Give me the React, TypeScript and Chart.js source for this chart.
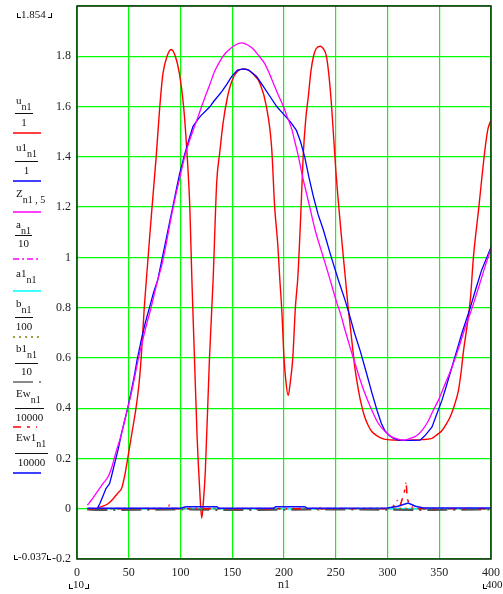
import React, { useEffect, useRef } from 'react';
import { Chart, registerables } from 'chart.js';

Chart.register(...registerables);

// ---- data (n1, value) ----
const U_PTS: number[][] = [
  [20, 0.005], [25, 0.01], [30, 0.02], [35, 0.04], [40, 0.065], [43, 0.08], [46, 0.13], [49, 0.2], [53, 0.3], [57, 0.4],
  [60, 0.5], [62, 0.6], [65, 0.8], [67, 0.91], [70, 1.07], [72.5, 1.2], [76.5, 1.4], [80, 1.6], [83, 1.73], [87, 1.8],
  [91, 1.827], [95, 1.8], [99, 1.73], [103, 1.6], [106.5, 1.4], [109, 1.2], [111, 0.91], [113.5, 0.6], [116, 0.29], [118.5, 0.08],
  [120.5, -0.037], [122.5, 0.05], [124, 0.15], [128, 0.6], [131.5, 0.91], [135, 1.3], [138, 1.42], [141, 1.53], [145, 1.63], [149.5, 1.7],
  [155, 1.74], [162, 1.75], [170, 1.73], [177, 1.69], [183, 1.6], [188, 1.44], [191, 1.2], [194, 1.05], [196, 0.91], [198, 0.78],
  [200, 0.6], [202, 0.5], [204, 0.45], [206, 0.5], [208.5, 0.6], [211, 0.8], [213.5, 0.93], [216, 1.15], [218.5, 1.4], [221, 1.55],
  [223.5, 1.64], [226, 1.74], [228.5, 1.8], [231, 1.83], [235, 1.84], [238, 1.83], [241, 1.8], [243.5, 1.72], [246, 1.6], [250, 1.35],
  [256, 1.06], [259, 0.93], [262, 0.8], [265.5, 0.67], [268.5, 0.56], [272, 0.47], [275, 0.41], [278, 0.365], [281.5, 0.33], [285, 0.306],
  [290, 0.29], [294.5, 0.28], [300, 0.275], [307, 0.273], [315, 0.272], [323, 0.273], [333, 0.275], [343, 0.28], [348, 0.295], [352.5, 0.31],
  [356.5, 0.335], [360.5, 0.365], [364.5, 0.41], [368.5, 0.47], [371, 0.54], [373.5, 0.63], [377, 0.73], [380, 0.83], [383, 1.0], [385.5, 1.1],
  [388, 1.19], [391, 1.31], [394.5, 1.44], [397, 1.51], [400, 1.545],
];

const U1_PTS: number[][] = [
  [20, 0.005], [22, 0.02], [25, 0.05], [28, 0.08], [31.5, 0.1], [34, 0.14], [37, 0.19], [40, 0.24], [43, 0.3], [46, 0.35],
  [49, 0.4], [52, 0.46], [55, 0.52], [58, 0.59], [62, 0.67], [66, 0.74], [70, 0.8], [74, 0.86], [78, 0.91], [82, 0.99],
  [86, 1.07], [89, 1.13], [92.5, 1.2], [96, 1.27], [99, 1.33], [104, 1.41], [109, 1.48], [112, 1.52], [117, 1.55], [120, 1.565],
  [125, 1.585], [128.5, 1.6], [132, 1.62], [136, 1.64], [140, 1.66], [145, 1.69], [149.5, 1.72], [155, 1.745], [160.5, 1.75], [166, 1.745],
  [173.5, 1.72], [180, 1.68], [186.5, 1.64], [193, 1.6], [199.5, 1.57], [206, 1.54], [212, 1.505], [216, 1.46], [220, 1.4], [224, 1.32],
  [228.5, 1.24], [233, 1.17], [238, 1.11], [245, 1.01], [252.5, 0.91], [259, 0.83], [264, 0.76], [268, 0.7], [273.5, 0.63], [279, 0.55],
  [285, 0.46], [290, 0.39], [294, 0.34], [297.5, 0.31], [302, 0.29], [306, 0.28], [310.5, 0.273], [320, 0.272], [331.5, 0.273], [336, 0.29],
  [339, 0.305], [343, 0.325], [347, 0.37], [352.5, 0.43], [357, 0.49], [362, 0.56], [367, 0.63], [372, 0.7], [376, 0.75], [380, 0.8],
  [385, 0.87], [391, 0.95], [395, 0.99], [400, 1.04],
];

const Z_PTS: number[][] = [
  [10, 0.014], [15, 0.04], [20, 0.07], [25, 0.1], [30, 0.127], [34, 0.17], [38, 0.23], [42.5, 0.29], [46, 0.35], [49, 0.4],
  [53, 0.47], [57, 0.55], [60, 0.61], [63.5, 0.67], [67, 0.73], [71, 0.79], [75, 0.86], [78, 0.91], [82, 0.97], [86, 1.05],
  [91, 1.16], [95, 1.24], [99, 1.31], [104, 1.4], [110, 1.48], [117, 1.56], [123, 1.63], [128.5, 1.69], [133, 1.74], [138, 1.78],
  [143, 1.81], [148, 1.83], [153, 1.845], [159, 1.853], [165, 1.845], [170, 1.83], [176, 1.8], [181.5, 1.77], [186, 1.73], [190, 1.69],
  [194, 1.65], [199.5, 1.6], [203, 1.56], [207.5, 1.51], [210.5, 1.46], [214, 1.4], [218, 1.32], [222, 1.25], [226, 1.18], [230, 1.11],
  [235, 1.04], [241, 0.96], [246, 0.89], [251, 0.82], [255, 0.77], [259, 0.71], [264, 0.64], [268.5, 0.58], [273, 0.52], [278, 0.46],
  [284, 0.4], [291, 0.34], [297, 0.31], [304, 0.286], [310, 0.277], [315.5, 0.273], [322, 0.28], [328, 0.29], [334, 0.315], [339.5, 0.35],
  [344, 0.39], [349, 0.43], [355, 0.49], [362, 0.56], [368, 0.63], [375, 0.72], [381, 0.79], [388, 0.88], [394, 0.96], [400, 1.035],
];

const A_PTS: number[][] = [[10, 0.001], [100, 0.001], [200, 0.001], [300, 0.001], [400, 0.001]];
const A1_PTS: number[][] = [[10, 0.0], [100, 0.0], [200, 0.0], [300, 0.0], [400, 0.0]];
const B_PTS: number[][] = [[10, 0.0], [100, 0.001], [200, 0.0], [300, 0.001], [400, 0.0]];
const B1_PTS: number[][] = [[10, -0.003], [18, -0.005], [28, -0.005], [100, -0.003], [142, -0.005], [157, -0.005], [250, -0.003], [333, -0.005], [345, -0.005], [400, -0.003]];
const EW_PTS: number[][] = [
  [10, 0.0], [88, 0.0], [89, 0.012], [90, 0.0], [233, 0.0], [234, 0.012], [235, 0.0], [300, 0.0], [305, 0.005], [309, 0.035],
  [312, 0.01], [316, 0.06], [318, 0.11], [319, 0.04], [322, 0.01], [330, 0.0], [400, 0.0],
];
const EW1_PTS: number[][] = [
  [10, 0.002], [100, 0.002], [105, 0.008], [135, 0.008], [137, 0.002], [190, 0.002], [192, 0.008], [220, 0.008], [222, 0.002], [300, 0.003],
  [310, 0.01], [320, 0.023], [327, 0.01], [335, 0.003], [400, 0.003],
];

const X_TICKS = [0, 50, 100, 150, 200, 250, 300, 350, 400];
const Y_TICKS = [-0.2, 0, 0.2, 0.4, 0.6, 0.8, 1, 1.2, 1.4, 1.6, 1.8, 2];

const SERIF = '"Liberation Serif", "Times New Roman", serif';

type Entry = {
  main: string; sub: string; den?: string; numY: number; fracY?: number; denY?: number;
  fx1?: number; fx2?: number; sampleY: number; color: string; dash: string;
};

const LEGEND: Entry[] = [
  { main: 'u', sub: 'n1', den: '1', numY: 100, fracY: 113, denY: 122, fx1: 15, fx2: 33, sampleY: 133, color: '#ff0000', dash: '' },
  { main: 'u1', sub: 'n1', den: '1', numY: 147, fracY: 161, denY: 170, fx1: 15, fx2: 38, sampleY: 181, color: '#0000ff', dash: '' },
  { main: 'Z', sub: 'n1 , 5', numY: 193, sampleY: 212, color: '#ff00ff', dash: '' },
  { main: 'a', sub: 'n1', den: '10', numY: 224, fracY: 235, denY: 243, fx1: 15, fx2: 32, sampleY: 259, color: '#ff00ff', dash: '6 3 2 3' },
  { main: 'a1', sub: 'n1', numY: 273, sampleY: 291, color: '#00ffff', dash: '' },
  { main: 'b', sub: 'n1', den: '100', numY: 303, fracY: 317, denY: 326, fx1: 15, fx2: 33, sampleY: 337, color: '#808000', dash: '2 4' },
  { main: 'b1', sub: 'n1', den: '10', numY: 348, fracY: 363, denY: 371, fx1: 15, fx2: 38, sampleY: 382, color: '#666666', dash: '20 6 2 6' },
  { main: 'Ew', sub: 'n1', den: '10000', numY: 393, fracY: 408, denY: 417, fx1: 15, fx2: 44, sampleY: 427, color: '#ff0000', dash: '8 6 3 6 1 6' },
  { main: 'Ew1', sub: 'n1', den: '10000', numY: 437, fracY: 453, denY: 462, fx1: 15, fx2: 48, sampleY: 473, color: '#0000ff', dash: '' },
];

const toXY = (pts: number[][]) => pts.map(([x, y]) => ({ x, y }));

const framePlugin = {
  id: 'frame',
  afterDraw(chart: any) {
    const { ctx, chartArea } = chart;
    const { left, top, right, bottom } = chartArea;
    ctx.save();
    ctx.strokeStyle = '#142814';
    ctx.lineWidth = 1.5;
    ctx.strokeRect(left, top, right - left, bottom - top);
    ctx.restore();
  },
};

function Bracket({ x, y, side }: { x: number; y: number; side: 'l' | 'r' }) {
  return (
    <div
      style={{
        position: 'absolute', left: x, top: y, width: 3, height: 4,
        borderBottom: '1px solid #000',
        borderLeft: side === 'l' ? '1px solid #000' : 'none',
        borderRight: side === 'r' ? '1px solid #000' : 'none',
      }}
    />
  );
}

function Txt({ x, y, text, size = 12 }: { x: number; y: number; text: string; size?: number }) {
  return (
    <div
      style={{
        position: 'absolute', left: x, top: y - size * 0.6, fontSize: size, lineHeight: `${size * 1.2}px`,
        fontFamily: SERIF, color: '#111', whiteSpace: 'pre',
      }}
    >
      {text}
    </div>
  );
}

function LegendItem({ e }: { e: Entry }) {
  return (
    <>
      <div
        style={{
          position: 'absolute', left: 16, top: e.numY - 7, fontFamily: SERIF, fontSize: 11,
          lineHeight: '14px', color: '#111', whiteSpace: 'pre',
        }}
      >
        <span>{e.main}</span>
        <span style={{ fontSize: 10, position: 'relative', top: 6 }}>{e.sub}</span>
      </div>
      {e.den !== undefined && (
        <>
          <div style={{ position: 'absolute', left: e.fx1, top: e.fracY, width: (e.fx2 as number) - (e.fx1 as number), height: 1, background: '#111' }} />
          <div
            style={{
              position: 'absolute', left: e.fx1, top: (e.denY as number) - 7, width: (e.fx2 as number) - (e.fx1 as number),
              textAlign: 'center', fontFamily: SERIF, fontSize: 11, lineHeight: '14px', color: '#111',
            }}
          >
            {e.den}
          </div>
        </>
      )}
      <svg style={{ position: 'absolute', left: 13, top: e.sampleY - 2 }} width={29} height={4}>
        <line x1={0} y1={2} x2={28} y2={2} stroke={e.color} strokeWidth={1.5} strokeDasharray={e.dash || undefined} />
      </svg>
    </>
  );
}

export default function App() {
  const ref = useRef<HTMLCanvasElement | null>(null);

  useEffect(() => {
    if (!ref.current) return;
    const mk = (label: string, pts: number[][], color: string, dash: number[], order: number, width = 1.4, smooth = false) => ({
      label,
      data: toXY(pts),
      borderColor: color,
      backgroundColor: color,
      borderWidth: width,
      borderDash: dash,
      pointRadius: 0,
      fill: false,
      order,
      cubicInterpolationMode: smooth ? 'monotone' : 'default',
      tension: 0,
    });
    const chart = new Chart(ref.current, {
      type: 'line',
      data: {
        datasets: [
          mk('u/1', U_PTS, '#ff0000', [], 9, 1.4, true),
          mk('u1/1', U1_PTS, '#0000ff', [], 8, 1.3, false),
          mk('Z', Z_PTS, '#ff00ff', [], 7, 1.3, true),
          mk('a/10', A_PTS, '#ff00ff', [6, 3, 2, 3], 6, 1.5),
          mk('a1', A1_PTS, '#00ffff', [], 5, 1.5),
          mk('b/100', B_PTS, '#808000', [2, 4], 4, 1.5),
          mk('b1/10', B1_PTS, '#555555', [20, 6, 2, 6], 3, 2),
          mk('Ew/10000', EW_PTS, '#ff0000', [8, 6, 3, 6, 1, 6], 2, 1.5),
          mk('Ew1/10000', EW1_PTS, '#1010ff', [], 1, 1.5),
        ] as any,
      },
      options: {
        animation: false,
        responsive: false,
        layout: { padding: { top: 6, right: 12, left: 0, bottom: 0 } },
        plugins: { legend: { display: false }, tooltip: { enabled: false } },
        scales: {
          x: {
            type: 'linear',
            min: 0,
            max: 400,
            afterBuildTicks: (s: any) => { s.ticks = X_TICKS.map((v) => ({ value: v })); },
            afterFit: (s: any) => { s.height = 35; s.paddingLeft = 0; s.paddingRight = 0; },
            grid: { color: '#00ff00', lineWidth: 1.2, drawTicks: false },
            border: { display: false },
            ticks: { padding: 7, color: '#222', font: { family: SERIF, size: 12 }, maxRotation: 0, callback: (v: any) => String(v) },
            title: { display: true, text: 'n1', color: '#222', font: { family: SERIF, size: 12 }, padding: { top: 0, bottom: 2 } },
          },
          y: {
            type: 'linear',
            min: -0.2,
            max: 2,
            afterBuildTicks: (s: any) => { s.ticks = Y_TICKS.map((v) => ({ value: v })); },
            afterFit: (s: any) => { s.width = 77; s.paddingTop = 0; s.paddingBottom = 0; },
            grid: { color: '#00ff00', lineWidth: 1.2, drawTicks: false },
            border: { display: false },
            ticks: {
              padding: 6,
              color: '#222',
              font: { family: SERIF, size: 12 },
              callback: (v: any) => (Math.abs(v - 2) < 1e-6 ? '' : String(Math.round(v * 10) / 10)),
            },
          },
        },
      } as any,
      plugins: [framePlugin],
    });
    return () => chart.destroy();
  }, []);

  return (
    <div style={{ position: 'fixed', left: 0, top: 0, width: 503, height: 594, background: '#fff', overflow: 'hidden' }}>
      <canvas ref={ref} width={503} height={594} style={{ position: 'absolute', left: 0, top: 0, width: 503, height: 594 }} />
      {/* range markers */}
      <Bracket x={17} y={13} side="l" />
      <Txt x={21} y={15} text="1.854" size={11} />
      <Bracket x={48} y={13} side="r" />
      <Bracket x={14} y={555} side="l" />
      <Txt x={18} y={557} text="-0.037" size={11} />
      <Bracket x={47} y={555} side="l" />
      <Bracket x={69} y={584} side="l" />
      <Txt x={73} y={585} text="10" size={11} />
      <Bracket x={85} y={584} side="r" />
      <Bracket x={483} y={584} side="l" />
      <Txt x={486} y={585} text="400" size={11} />
      {LEGEND.map((e, i) => (
        <LegendItem key={i} e={e} />
      ))}
    </div>
  );
}
